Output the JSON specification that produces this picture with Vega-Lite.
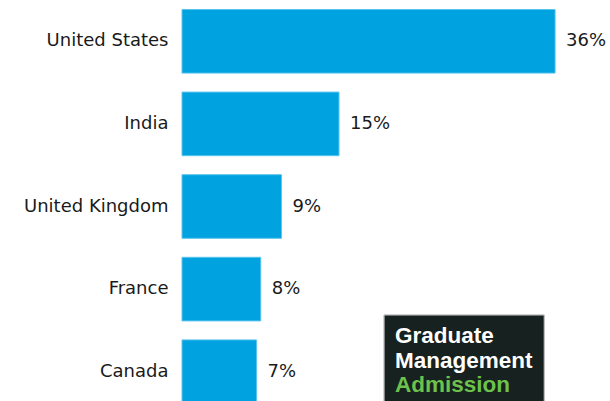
{
  "$schema": "https://vega.github.io/schema/vega-lite/v6.json",
  "width": 428,
  "height": 413,
  "autosize": "none",
  "padding": {"left": 182, "top": 0, "right": 0, "bottom": 0},
  "background": "white",
  "config": {"view": {"stroke": null}, "font": "DejaVu Sans"},
  "layer": [
    {
      "data": {"values": [
        {"country": "United States", "share": 36.0, "label": "36%"},
        {"country": "India", "share": 15.15, "label": "15%"},
        {"country": "United Kingdom", "share": 9.6, "label": "9%"},
        {"country": "France", "share": 7.6, "label": "8%"},
        {"country": "Canada", "share": 7.2, "label": "7%"}
      ]},
      "layer": [
        {
          "mark": {"type": "bar", "color": "#00a3e0", "stroke": "#5bc3ee", "strokeWidth": 1},
          "encoding": {
            "y": {"field": "country", "type": "nominal", "sort": null,
              "scale": {"paddingInner": 0.23, "paddingOuter": 0.115},
              "axis": {"title": null, "domain": false, "ticks": false, "labelPadding": 14, "labelFontSize": 18, "labelColor": "#1a1a1a", "labelFont": "DejaVu Sans"}},
            "x": {"field": "share", "type": "quantitative", "scale": {"domain": [0, 41.3], "nice": false}, "axis": null}
          }
        },
        {
          "mark": {"type": "text", "align": "left", "baseline": "middle", "dx": 11, "fontSize": 18, "color": "#1a1a1a"},
          "encoding": {
            "y": {"field": "country", "type": "nominal", "sort": null},
            "x": {"field": "share", "type": "quantitative"},
            "text": {"field": "label"}
          }
        }
      ]
    },
    {
      "data": {"values": [
        {"text": "Graduate", "pos": 343, "color": "#ffffff"},
        {"text": "Management", "pos": 367.5, "color": "#ffffff"},
        {"text": "Admission", "pos": 392, "color": "#6cc24a"},
        {"text": "Council™", "pos": 416.5, "color": "#6cc24a"}
      ]},
      "layer": [
        {
          "mark": {"type": "rect", "color": "#172120", "stroke": "#cccccc", "strokeWidth": 1},
          "encoding": {
            "x": {"datum": 19.5, "type": "quantitative"},
            "x2": {"datum": 34.95},
            "y": {"datum": 315, "type": "quantitative", "scale": {"domain": [0, 413], "reverse": true, "nice": false, "zero": false}, "axis": null},
            "y2": {"datum": 413}
          }
        },
        {
          "mark": {"type": "text", "align": "left", "baseline": "alphabetic", "fontSize": 22.5, "fontWeight": 600, "font": "Liberation Sans"},
          "encoding": {
            "x": {"datum": 20.55, "type": "quantitative"},
            "y": {"field": "pos", "type": "quantitative", "scale": {"domain": [0, 413], "reverse": true, "nice": false, "zero": false}, "axis": null},
            "text": {"field": "text"},
            "color": {"field": "color", "type": "nominal", "scale": null}
          }
        }
      ],
      "resolve": {"scale": {"y": "shared"}}
    }
  ],
  "resolve": {"scale": {"y": "independent"}}
}
